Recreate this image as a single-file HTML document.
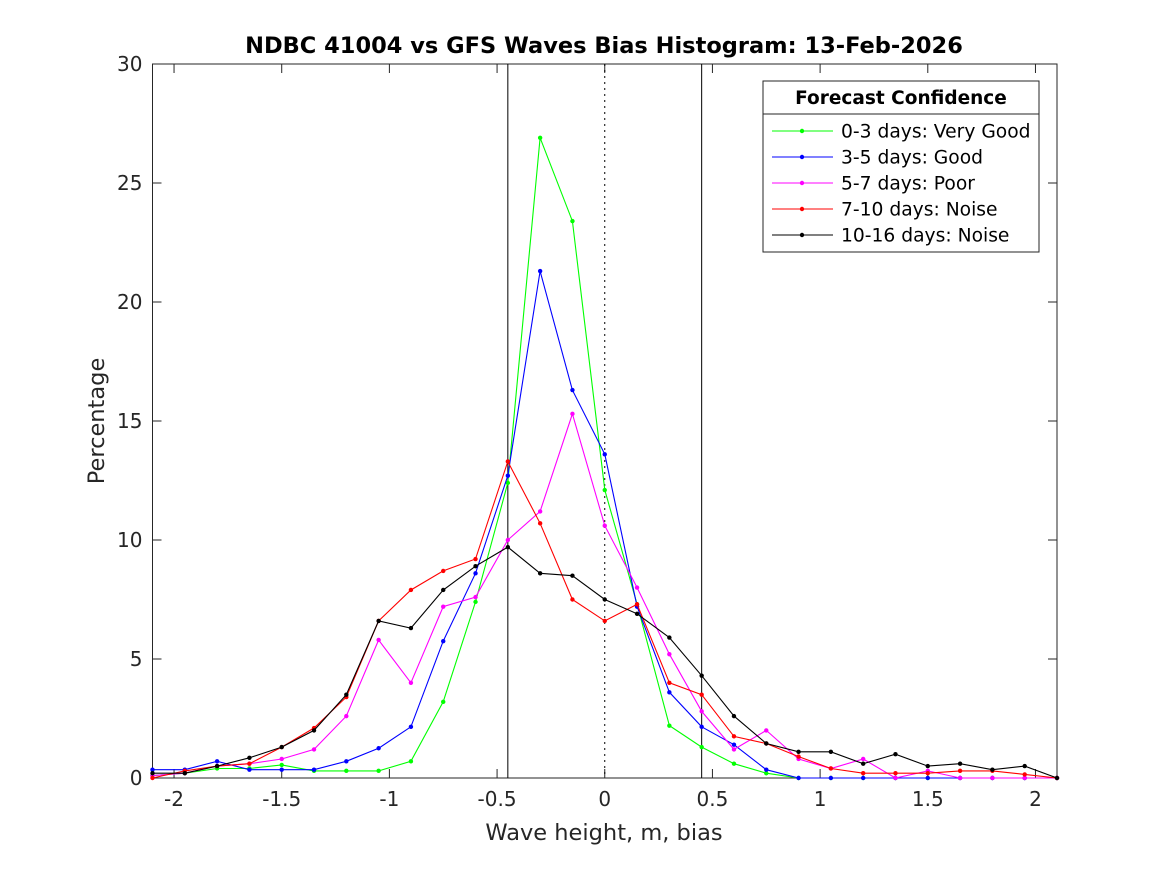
<!DOCTYPE html>
<html><head><meta charset="utf-8"><style>
body{margin:0;background:#fff;}
svg{display:block;font-family:"DejaVu Sans","Liberation Sans",sans-serif;}
</style></head><body>
<svg id="chart" width="1167" height="875">
<rect width="1167" height="875" fill="#fff"/>
<text x="604" y="53" font-size="22.5" font-weight="bold" text-anchor="middle">NDBC 41004 vs GFS Waves Bias Histogram: 13-Feb-2026</text>
<g id="axes"></g>
<g id="series"></g>
<text x="604" y="840" font-size="22.5" text-anchor="middle" fill="#262626">Wave height, m, bias</text>
<text transform="translate(104,421) rotate(-90)" font-size="22.5" text-anchor="middle" fill="#262626">Percentage</text>
<g id="legend"></g>
</svg>
<script>
const xValues=[-2.1,-1.95,-1.8,-1.65,-1.5,-1.35,-1.2,-1.05,-0.9,-0.75,-0.6,-0.45,-0.3,-0.15,0,0.15,0.3,0.45,0.6,0.75,0.9,1.05,1.2,1.35,1.5,1.65,1.8,1.95,2.1];
const green=[0.1,0.2,0.4,0.4,0.55,0.3,0.3,0.3,0.7,3.2,7.4,12.4,26.9,23.4,12.1,7.3,2.2,1.3,0.6,0.2,0,0,0,0,0,0,0,0,0];
const blue=[0.35,0.35,0.7,0.35,0.35,0.35,0.7,1.25,2.15,5.75,8.6,12.7,21.3,16.3,13.6,7.2,3.6,2.15,1.4,0.35,0,0,0,0,0,0,0,0,0];
const magenta=[0.1,0.2,0.5,0.6,0.8,1.2,2.6,5.8,4.0,7.2,7.6,10.0,11.2,15.3,10.6,8.0,5.2,2.8,1.2,2.0,0.8,0.4,0.8,0,0.3,0,0,0,0];
const red=[0,0.3,0.5,0.6,1.3,2.1,3.4,6.6,7.9,8.7,9.2,13.3,10.7,7.5,6.6,7.3,4.0,3.5,1.75,1.45,0.9,0.4,0.2,0.2,0.2,0.3,0.3,0.15,0];
const black=[0.2,0.2,0.5,0.85,1.3,2.0,3.5,6.6,6.3,7.9,8.9,9.7,8.6,8.5,7.5,6.9,5.9,4.3,2.6,1.45,1.1,1.1,0.6,1.0,0.5,0.6,0.35,0.5,0];
const seriesNames=["0-3 days: Very Good","3-5 days: Good","5-7 days: Poor","7-10 days: Noise","10-16 days: Noise"];
const xTicks=[-2,-1.5,-1,-0.5,0,0.5,1,1.5,2];
const xTickLabels=["-2","-1.5","-1","-0.5","0","0.5","1","1.5","2"];
const yTicks=[0,5,10,15,20,25,30];
const vLines=[-0.45,0,0.45];

const NS="http://www.w3.org/2000/svg";
const L=152.5,R=1057,T=64,B=778;
const xs=v=>L+(v+2.1)/4.2*(R-L);
const ys=v=>B-v/30*(B-T);
function mk(tag,attrs,parent){const e=document.createElementNS(NS,tag);for(const k in attrs)e.setAttribute(k,attrs[k]);parent.appendChild(e);return e;}
const axes=document.getElementById('axes');
const frame=mk('rect',{x:L,y:T,width:R-L,height:B-T,fill:'none',stroke:'#262626','stroke-width':1},axes);


xTicks.forEach((t,i)=>{
  const x=xs(t);
  mk('line',{x1:x,y1:B,x2:x,y2:B-9,stroke:'#262626'},axes);
  mk('line',{x1:x,y1:T,x2:x,y2:T+9,stroke:'#262626'},axes);
  const tx=mk('text',{x:x,y:B+28,'font-size':20,'text-anchor':'middle',fill:'#262626'},axes);
  tx.textContent=xTickLabels[i];
  
  
});
yTicks.forEach(t=>{
  const y=ys(t);
  mk('line',{x1:L,y1:y,x2:L+9,y2:y,stroke:'#262626'},axes);
  mk('line',{x1:R,y1:y,x2:R-9,y2:y,stroke:'#262626'},axes);
  const tx=mk('text',{x:L-10,y:y+7,'font-size':20,'text-anchor':'end',fill:'#262626'},axes);
  tx.textContent=String(t);
  
  
});
vLines.forEach(v=>{
  const ln=mk('line',{x1:xs(v),y1:T,x2:xs(v),y2:B,stroke:'#000','stroke-width':1},axes);
  if(v===0)ln.setAttribute('stroke-dasharray','2,4');
  
  
});
const sg=document.getElementById('series');
const data=[green,blue,magenta,red,black];
const colors=['#00ff00','#0000ff','#ff00ff','#ff0000','#000000'];
const snames=['series-0-3-days','series-3-5-days','series-5-7-days','series-7-10-days','series-10-16-days'];
data.forEach((arr,si)=>{
  const g=mk('g',{},sg);
  
  
  const pts=arr.map((v,i)=>xs(xValues[i]).toFixed(1)+','+ys(v).toFixed(1)).join(' ');
  mk('polyline',{points:pts,fill:'none',stroke:colors[si],'stroke-width':1.1},g);
  arr.forEach((v,i)=>{
    const c=mk('circle',{cx:xs(xValues[i]),cy:ys(v),r:2.2,fill:colors[si]},g);
    
    
  });
});
const lg=document.getElementById('legend');
mk('rect',{x:763,y:81,width:276,height:171,fill:'#fff',stroke:'#262626'},lg);
mk('line',{x1:763,y1:114,x2:1039,y2:114,stroke:'#262626'},lg);
const lt=mk('text',{x:901,y:104,'font-size':18.5,'font-weight':'bold','text-anchor':'middle'},lg);
lt.textContent='Forecast Confidence';


seriesNames.forEach((n,i)=>{
  const y=131+i*26;
  const g=mk('g',{},lg);
  
  
  mk('line',{x1:772,y1:y,x2:833,y2:y,stroke:colors[i]},g);
  mk('circle',{cx:802,cy:y,r:2.2,fill:colors[i]},g);
  const t=mk('text',{x:841,y:y+6.5,'font-size':18.7,fill:'#000'},g);
  t.textContent=n;
});
</script>
</body></html>
